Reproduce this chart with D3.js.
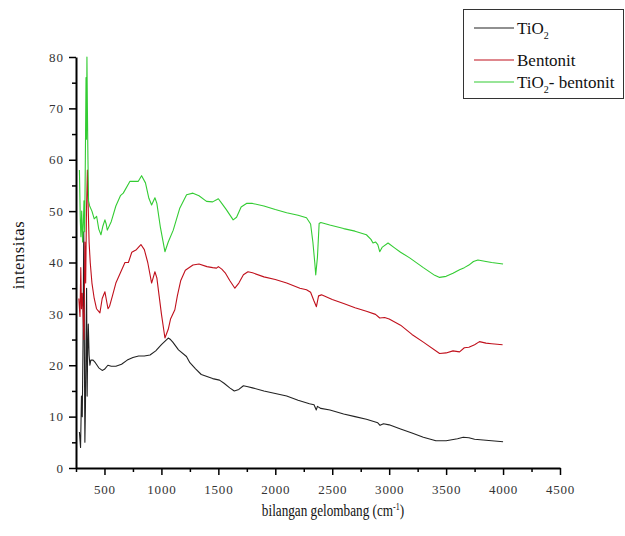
<!DOCTYPE html>
<html>
<head>
<meta charset="utf-8">
<script src="https://cdn.jsdelivr.net/npm/d3@7"></script>
<style>
  body { margin: 0; background: #fff; }
  svg { display: block; }
  svg text { font-family: "Liberation Serif", "DejaVu Serif", serif; }
</style>
</head>
<body>
<svg id="chart" width="625" height="536"></svg>
<script>
// wavenumber (cm-1), intensity pairs
const tio2 = [
  [280,7],[290,4],[298,14],[305,10],[312,25],[318,46],[322,30],[328,5],[333,12],[338,24],
  [343,35],[348,14],[352,22],[358,28],[365,22],[372,20],[380,21],[400,21],[420,20.5],[450,19.5],
  [480,19],[500,19.2],[530,20],[560,19.8],[600,19.8],[650,20.2],[700,21],[750,21.5],[800,21.8],
  [850,21.8],[900,22],[950,22.8],[1000,24],[1060,25.3],[1080,25],[1100,24.5],[1150,23],[1220,21.7],
  [1250,20.5],[1300,19.3],[1350,18.2],[1400,17.8],[1450,17.4],[1510,17.1],[1550,16.5],[1600,15.6],
  [1640,15],[1680,15.3],[1720,16],[1760,15.8],[1800,15.6],[1900,15],[2000,14.5],[2100,14],[2200,13.2],
  [2300,12.5],[2340,12.3],[2360,11.3],[2370,12],[2400,11.6],[2480,11.3],[2600,10.5],[2700,10],
  [2800,9.5],[2900,8.8],[2920,8.3],[2950,8.6],[3000,8.4],[3100,7.6],[3200,6.8],[3300,6],[3410,5.3],
  [3500,5.3],[3600,5.7],[3650,6],[3700,5.9],[3750,5.6],[3800,5.5],[3900,5.3],[4000,5.1]
];
const bentonit = [
  [275,33],[285,29.5],[292,39],[298,31],[305,34],[312,30],[320,25],[328,44],[335,36],[342,50],
  [350,58],[358,50],[365,44],[375,40],[390,36],[410,33],[430,31],[460,30.2],[480,33],[504,34.3],
  [531,31],[545,31.5],[570,33.5],[600,36],[640,38],[680,40],[710,40],[740,42],[780,42.5],[820,43.5],
  [850,42.5],[880,40],[914,36],[943,38.2],[960,37],[980,33.5],[1000,30],[1031,25.3],[1060,27],
  [1080,29],[1118,30.8],[1140,33.5],[1170,36.5],[1210,38.5],[1277,39.5],[1330,39.7],[1400,39.2],
  [1450,39],[1484,38.9],[1500,39.2],[1530,38.7],[1560,38],[1600,36.5],[1645,35],[1680,36],
  [1720,37.6],[1760,38.2],[1800,38],[1900,37.2],[2000,36.7],[2100,36],[2216,35],[2274,34.7],
  [2310,34.2],[2340,32.5],[2361,31.4],[2380,33.5],[2406,33.7],[2500,32.8],[2600,32],[2700,31.2],
  [2800,30.5],[2880,29.9],[2917,29.2],[2960,29.3],[3000,29],[3100,27.8],[3200,26],[3300,24.5],
  [3443,22.3],[3500,22.4],[3560,22.8],[3618,22.6],[3660,23.4],[3700,23.5],[3750,24],[3793,24.6],
  [3850,24.3],[3900,24.2],[3996,24]
];
const tio2Bentonit = [
  [280,58],[288,48],[293,45],[300,50],[308,44],[315,48],[320,52],[326,46],[332,60],[338,76],
  [342,64],[346,80],[350,70],[355,60],[360,52],[370,51],[390,50],[410,48.5],[431,49],[450,46.5],
  [469,45.4],[485,47],[504,48.3],[515,47.5],[525,46.3],[560,48],[600,51],[640,53],[665,53.5],
  [724,55.8],[797,55.8],[826,56.9],[860,55.5],[890,52.5],[914,51.2],[943,52.6],[960,51.5],
  [990,47],[1031,42.1],[1060,44],[1104,46.3],[1160,50.5],[1221,53.2],[1277,53.5],[1330,53],
  [1396,51.9],[1450,51.8],[1484,52.2],[1500,52.4],[1530,51.5],[1570,50.3],[1630,48.3],[1660,48.8],
  [1700,50.8],[1747,51.5],[1800,51.5],[1900,51],[2000,50.3],[2100,49.7],[2200,49.2],[2274,48.7],
  [2310,47.5],[2330,44],[2347,39.9],[2355,37.6],[2370,41],[2385,47.6],[2400,47.8],[2478,47.3],
  [2600,46.6],[2700,46.1],[2800,45.4],[2840,44.5],[2858,43.8],[2880,44],[2900,43.5],[2917,42.1],
  [2940,43],[2990,43.8],[3050,42.8],[3100,42],[3180,40.9],[3300,39],[3400,37.5],[3443,37.1],
  [3500,37.3],[3560,37.9],[3618,38.6],[3660,39],[3700,39.5],[3740,40.2],[3779,40.5],[3850,40.2],
  [3900,40],[4000,39.7]
];

const xMajor = [500,1000,1500,2000,2500,3000,3500,4000,4500];
const xMinor = [250,750,1250,1750,2250,2750,3250,3750,4250];
const yMajor = [0,10,20,30,40,50,60,70,80];
const yMinor = [5,15,25,35,45,55,65,75];

const seriesNames = ["TiO2", "Bentonit", "TiO2- bentonit"];
const seriesColors = ["#222", "#c0101c", "#33cc33"];

const svg = d3.select("#chart");

const x = d3.scaleLinear().domain([250, 4500]).range([76, 560]);
const y = d3.scaleLinear().domain([0, 80]).range([468, 57]);

// minor ticks first, then major axes on top
svg.append("g")
  .attr("transform", "translate(0,468)")
  .call(d3.axisBottom(x).tickValues(xMinor).tickFormat("").tickSize(4).tickSizeOuter(0))
  .call(g => g.select(".domain").remove())
  .call(g => g.selectAll("line").attr("stroke", "#000").attr("stroke-width", 1.5));

svg.append("g")
  .attr("transform", "translate(76,0)")
  .call(d3.axisLeft(y).tickValues(yMinor).tickFormat("").tickSize(4).tickSizeOuter(0))
  .call(g => g.select(".domain").remove())
  .call(g => g.selectAll("line").attr("stroke", "#000").attr("stroke-width", 1.5));

const xAxis = svg.append("g")
  .attr("transform", "translate(0,468)")
  .call(d3.axisBottom(x).tickValues(xMajor).tickFormat(d3.format("d"))
    .tickSize(7).tickSizeOuter(0).tickPadding(10));
xAxis.attr("font-family", null);
xAxis.select(".domain").attr("stroke-width", 2);
xAxis.selectAll("line").attr("stroke-width", 1.5);
xAxis.selectAll("text")
  .attr("font-size", 13)
  .attr("letter-spacing", 0.8)
  .attr("fill", "#333");

const yAxis = svg.append("g")
  .attr("transform", "translate(76,0)")
  .call(d3.axisLeft(y).tickValues(yMajor).tickFormat(d3.format("d"))
    .tickSize(7).tickSizeOuter(0).tickPadding(5));
yAxis.attr("font-family", null);
yAxis.select(".domain").attr("stroke-width", 2);
yAxis.selectAll("line").attr("stroke-width", 1.5);
yAxis.selectAll("text")
  .attr("font-size", 13)
  .attr("letter-spacing", 1)
  .attr("fill", "#333");

// spectra
const line = d3.line().x(d => x(d[0])).y(d => y(d[1]));
[tio2, bentonit, tio2Bentonit].forEach((s, i) => {
  svg.append("path")
    .datum(s)
    .attr("fill", "none")
    .attr("stroke", seriesColors[i])
    .attr("stroke-width", 1.1)
    .attr("stroke-linejoin", "round")
    .attr("d", line);
});

// axis titles (reference x title is horizontally condensed)
const xTitle = svg.append("text")
  .attr("transform", "translate(333,516) scale(0.8,1)")
  .attr("text-anchor", "middle")
  .attr("font-size", 16.5)
  .attr("fill", "#111");
xTitle.append("tspan").text("bilangan gelombang (cm");
xTitle.append("tspan").attr("font-size", 10).attr("dy", -6).text("-1");
xTitle.append("tspan").attr("dy", 6).text(")");

svg.append("text")
  .attr("transform", "translate(24,255) rotate(-90)")
  .attr("text-anchor", "middle")
  .attr("font-size", 16.5)
  .attr("letter-spacing", 0.6)
  .attr("fill", "#111")
  .text("intensitas");

// legend
const legend = svg.append("g");
legend.append("rect")
  .attr("x", 463.5).attr("y", 9.5)
  .attr("width", 160).attr("height", 89)
  .attr("fill", "#fff").attr("stroke", "#333").attr("stroke-width", 1);

const rowY = [28, 60, 82];
seriesNames.forEach((name, i) => {
  legend.append("line")
    .attr("x1", 474).attr("x2", 514)
    .attr("y1", rowY[i]).attr("y2", rowY[i])
    .attr("stroke", seriesColors[i]).attr("stroke-width", 1.2);
  const t = legend.append("text")
    .attr("x", 517).attr("y", rowY[i] + 6)
    .attr("font-size", 17)
    .attr("fill", "#111");
  if (name.startsWith("TiO2")) {
    t.append("tspan").text("TiO");
    t.append("tspan").attr("font-size", 10).attr("dy", 5).text("2");
    t.append("tspan").attr("dy", -5).text(name.slice(4));
  } else {
    t.text(name);
  }
});
</script>
</body>
</html>
